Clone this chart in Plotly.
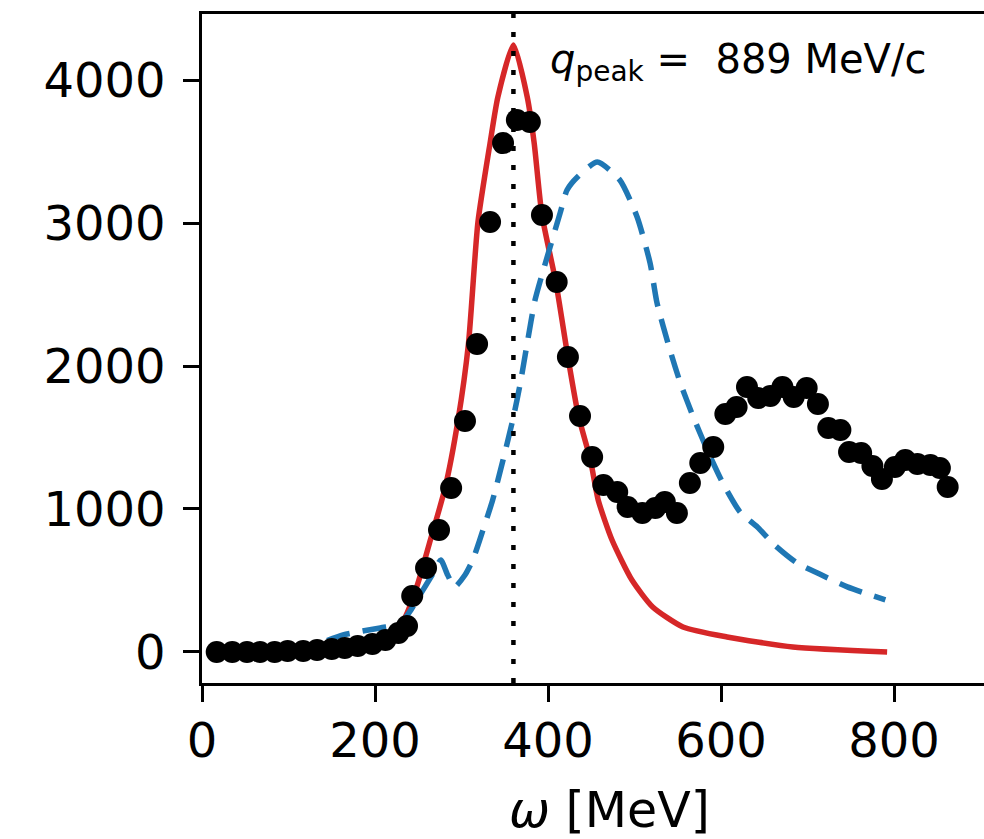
import plotly.graph_objects as go

# Measured data (omega in MeV, response values)
data_omega = [17, 35, 52, 67, 84, 99, 117, 133, 150, 165, 180, 197, 212, 227, 237,
              243, 259, 274, 288, 304, 318, 333, 348, 364, 379, 393, 410, 423, 437,
              451, 464, 480, 492, 509, 524, 535, 549, 564, 576, 591, 605, 618, 630,
              643, 657, 671, 684, 699, 712, 724, 738, 748, 762, 775, 786, 801, 813,
              827, 842, 853, 862]
data_values = [0, 0, 0, 0, 0, 7, 7, 14, 21, 28, 42, 56, 84, 133, 182,
               392, 587, 853, 1147, 1615, 2154, 3007, 3559, 3720, 3706, 3056, 2587, 2063, 1650,
               1364, 1168, 1119, 1014, 972, 1007, 1049, 972, 1182, 1322, 1434, 1664, 1713, 1853,
               1776, 1790, 1853, 1783, 1846, 1734, 1566, 1552, 1399, 1392, 1301, 1210, 1294, 1343,
               1315, 1308, 1287, 1154]

red_omega = [18, 113, 171, 206, 223, 235, 249, 264, 281, 296, 308, 319, 333, 342,
             360, 376, 384, 393, 409, 423, 435, 449, 458, 474, 497, 521, 556, 607, 683, 792]
red_values = [0, 7, 28, 70, 140, 245, 469, 783, 1147, 1622, 2154, 3007, 3559, 3881,
              4245, 3881, 3559, 3056, 2587, 2063, 1657, 1343, 1063, 783, 503, 315, 175, 105, 35, 0]

blue_omega = [18, 113, 163, 206, 229, 240, 252, 266, 276, 284, 292, 304, 313, 321, 336,
              348, 360, 368, 376, 385, 399, 414, 422, 434, 457, 483, 503, 518, 526, 541,
              553, 568, 584, 602, 622, 642, 662, 688, 714, 746, 790]
blue_values = [0, 14, 119, 168, 196, 280, 399, 538, 643, 538, 455, 538, 643, 783, 1063,
               1343, 1643, 1881, 2161, 2462, 2762, 3070, 3231, 3322, 3427, 3301, 3042, 2720, 2441, 2112,
               1881, 1643, 1413, 1182, 979, 874, 748, 622, 545, 455, 364]

omega_peak = 360
q_peak_label = "<i>q</i><sub>peak</sub> = &nbsp;889 MeV/c"
x_title = "<i>ω</i> [MeV]"
x_ticks = [0, 200, 400, 600, 800]
y_ticks = [0, 1000, 2000, 3000, 4000]

FONT = "DejaVu Sans"
X_RANGE = [0, 904]
Y_RANGE = [-217, 4462]
ML, MT, MB = 202, 14, 156
PW, PH = 984 - ML, 839 - MT - MB

fig = go.Figure()
fig.add_trace(go.Scatter(x=red_omega, y=red_values, mode="lines",
                         line=dict(color="#d62728", width=5.5, shape="spline", smoothing=0.6),
                         showlegend=False))
fig.add_trace(go.Scatter(x=blue_omega, y=blue_values, mode="lines",
                         line=dict(color="#1f77b4", width=5.5, dash="24px,13px",
                                   shape="spline", smoothing=0.6),
                         showlegend=False))
fig.add_trace(go.Scatter(x=[omega_peak, omega_peak], y=Y_RANGE, mode="lines",
                         line=dict(color="black", width=4.5, dash="5px,14px"), showlegend=False))
fig.add_trace(go.Scatter(x=data_omega, y=data_values, mode="markers",
                         marker=dict(color="black", size=22), showlegend=False))

fig.add_annotation(x=400, y=4125, xref="x", yref="y", text=q_peak_label,
                   showarrow=False, xanchor="left", yanchor="middle",
                   font=dict(family=FONT, size=40, color="black"))
fig.add_annotation(x=(609 - ML) / PW, y=-(810 - (MT + PH)) / PH, xref="paper", yref="paper",
                   text=x_title, showarrow=False, xanchor="center", yanchor="middle",
                   font=dict(family=FONT, size=49, color="black"))

axis_common = dict(showgrid=False, zeroline=False, showline=True, linecolor="black",
                   linewidth=2.5, ticks="outside", ticklen=16, tickwidth=2.5,
                   tickcolor="black", automargin=False,
                   tickfont=dict(family=FONT, size=48, color="black"))
fig.update_xaxes(range=X_RANGE, tickvals=x_ticks, mirror=True,
                 ticklabelstandoff=-2, **axis_common)
fig.update_yaxes(range=Y_RANGE, tickvals=y_ticks, mirror=False,
                 ticklabelstandoff=8, **axis_common)

fig.update_layout(width=984, height=839, margin=dict(l=ML, r=0, t=MT, b=MB, autoexpand=False),
                  plot_bgcolor="white", paper_bgcolor="white",
                  font=dict(family=FONT, color="black"))

fig.write_html("out.html", config={"displayModeBar": False},
               post_script="document.body.style.margin='0px';document.body.style.overflow='hidden';")
